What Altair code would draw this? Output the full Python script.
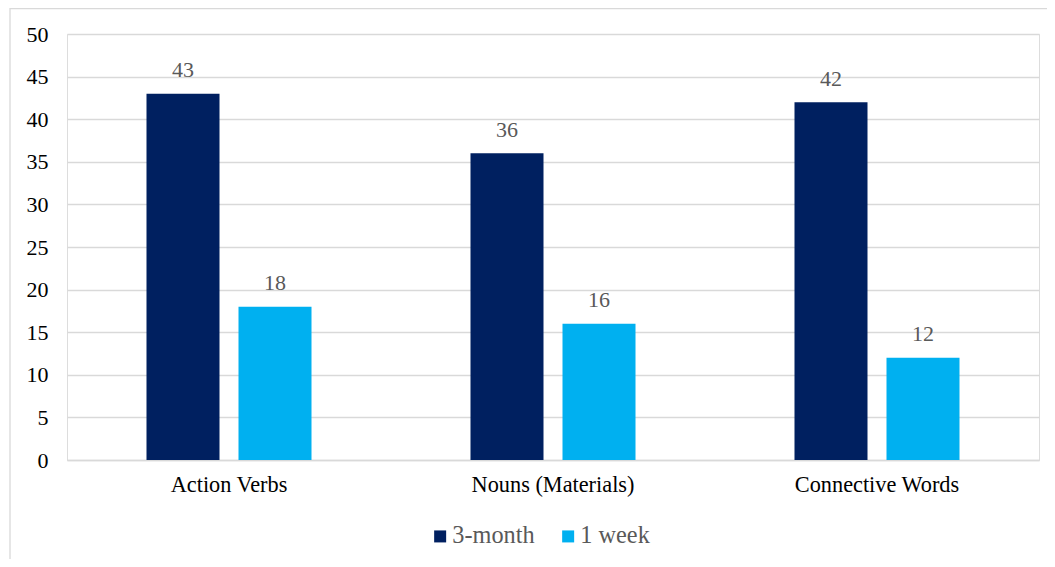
import altair as alt
import pandas as pd

categories = ["Action Verbs", "Nouns (Materials)", "Connective Words"]
series_names = ["3-month", "1 week"]
three_month = [43, 36, 42]
one_week = [18, 16, 12]
series_colors = ["#002060", "#00B0F0"]
y_ticks = [0, 5, 10, 15, 20, 25, 30, 35, 40, 45, 50]

rows = []
for c, v in zip(categories, three_month):
    rows.append({"category": c, "series": series_names[0], "value": v})
for c, v in zip(categories, one_week):
    rows.append({"category": c, "series": series_names[1], "value": v})
df = pd.DataFrame(rows)

FONT = "Liberation Serif"

x_enc = alt.X("category:N", sort=categories, title=None,
              scale=alt.Scale(paddingInner=0, paddingOuter=0),
              axis=alt.Axis(labelAngle=0, labelFontSize=22.3, labelColor="#000000",
                            labelFont=FONT, ticks=False, tickSize=0, labelPadding=13,
                            domainColor="#d9d9d9", domainWidth=1.3, grid=False,
                            labelBaseline="top"))
xoff = alt.XOffset("series:N", sort=series_names,
                   scale=alt.Scale(paddingInner=0.2065, paddingOuter=0.864))
y_enc = alt.Y("value:Q", title=None,
              scale=alt.Scale(domain=[0, 50], nice=False),
              axis=alt.Axis(values=y_ticks, labelFontSize=22, labelColor="#000000",
                            labelFont=FONT, ticks=False, tickSize=0, labelPadding=19,
                            domain=False, grid=True, gridColor="#d9d9d9", gridWidth=1.3))

base = alt.Chart(df)

bars = base.mark_bar().encode(
    x=x_enc,
    xOffset=xoff,
    y=y_enc,
    color=alt.Color("series:N", sort=series_names,
                    scale=alt.Scale(domain=series_names, range=series_colors),
                    legend=alt.Legend(title=None, orient="none", direction="horizontal",
                                      legendX=361, legendY=490,
                                      symbolType="square", symbolSize=144,
                                      symbolStrokeWidth=0, labelFontSize=24.3,
                                      labelFont=FONT, labelColor="#595959",
                                      labelOffset=0, columnPadding=21, padding=0)),
)

labels = base.mark_text(font=FONT, fontSize=22, color="#595959",
                        baseline="alphabetic", dy=-16.5).encode(
    x=alt.X("category:N", sort=categories),
    xOffset=alt.XOffset("series:N", sort=series_names),
    y="value:Q",
    text="value:Q",
)

frame = alt.Chart(pd.DataFrame({"a": [0]})).mark_rect(
    fill=None, stroke="#d9d9d9", strokeWidth=1.3, clip=False
).encode(
    x=alt.value(-57), x2=alt.value(1010),
    y=alt.value(-25.5), y2=alt.value(600),
)

chart = alt.layer(frame, bars, labels).properties(
    width=972, height=426,
    autosize=alt.AutoSizeParams(type="none"),
    padding={"left": 59, "top": 26, "right": 8, "bottom": 99},
).configure_view(stroke=None).configure(background="white")

chart.save("out.html", embed_options={"renderer": "svg", "actions": False})
